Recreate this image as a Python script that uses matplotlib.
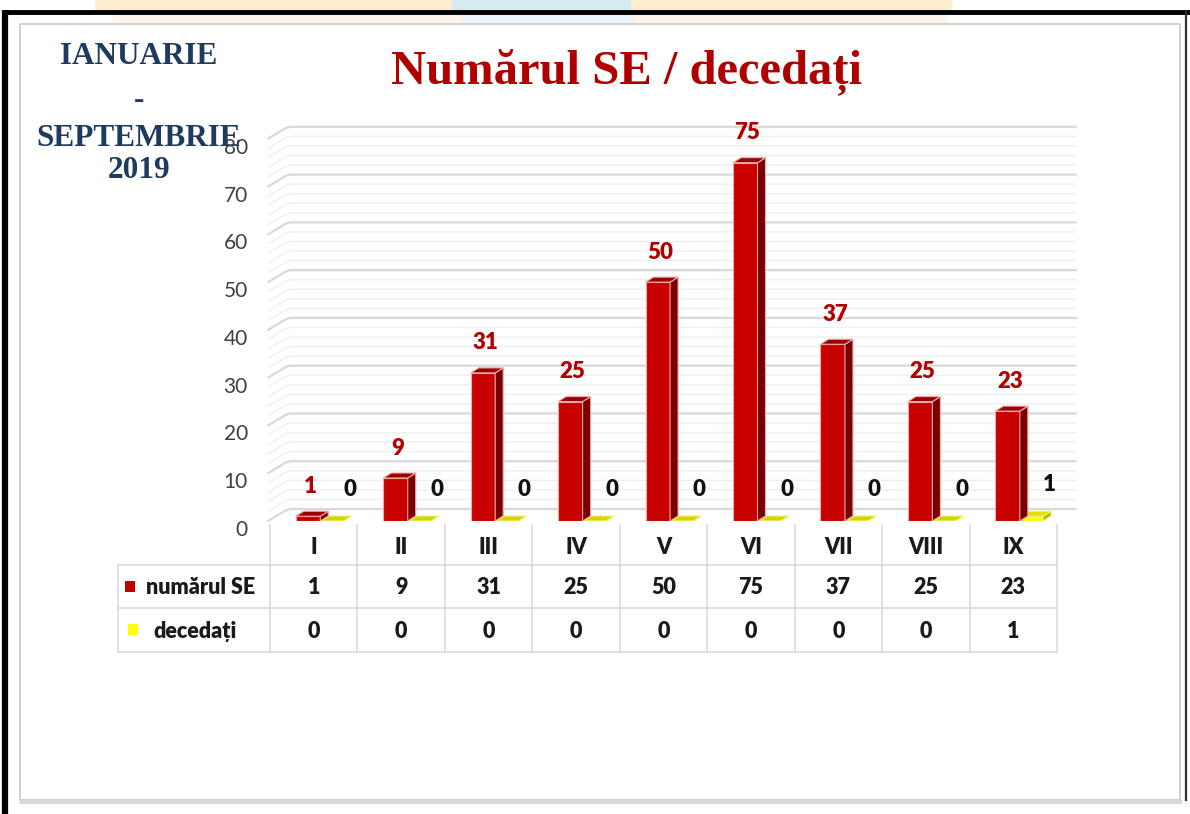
import numpy as np
import matplotlib
matplotlib.use("Agg")
import matplotlib.pyplot as plt
from matplotlib.patches import Polygon, Rectangle
from matplotlib.transforms import blended_transform_factory, ScaledTranslation

# ---------------- data ----------------
categories = ["I", "II", "III", "IV", "V", "VI", "VII", "VIII", "IX"]
numarul_se = [1, 9, 31, 25, 50, 75, 37, 25, 23]
decedati = [0, 0, 0, 0, 0, 0, 0, 0, 1]
series_names = ["numărul SE", "decedați"]
y_ticks = [0, 10, 20, 30, 40, 50, 60, 70, 80]
title = "Numărul SE / decedați"
side_text = ["IANUARIE", "-", "SEPTEMBRIE", "2019"]

W, H = 1190, 814
fig = plt.figure(figsize=(W / 100, H / 100), dpi=100)
fig.patch.set_facecolor("white")

# background / decoration axes in pixel coordinates
bg = fig.add_axes([0, 0, 1, 1])
bg.set_xlim(0, W)
bg.set_ylim(H, 0)
bg.axis("off")

# top decorative strip
grad = np.zeros((1, 400, 3))
xs = np.linspace(0, 1, 400)
for i, xv in enumerate(xs):
    if 0.38 < xv < 0.53:
        c = (0.84, 0.92, 0.96)
    elif 0.08 < xv < 0.80:
        c = (0.99, 0.93, 0.82)
    else:
        c = (1, 1, 1)
    grad[0, i] = c
bg.imshow(grad, extent=[0, W, 11, 0], aspect="auto", zorder=0)
bg.imshow(grad * 0.5 + 0.5, extent=[20, 1180, 24, 13], aspect="auto", zorder=0)

# black outer frame
bg.plot([5, 5], [10, H], color="black", lw=4.5, solid_capstyle="butt", zorder=5)
bg.plot([3, W], [12, 12], color="black", lw=3.5, solid_capstyle="butt", zorder=5)
bg.plot([1186, 1186], [12, 800], color="#303030", lw=1.6, zorder=5)
# inner panel
bg.add_patch(Rectangle((20, 24), 1160, 776, facecolor="white", edgecolor="#C8C8C8", lw=1.2, zorder=1))
bg.plot([22, 1180], [802, 802], color="#D8D8D8", lw=3, zorder=1)

# ---------------- chart axes ----------------
px_left, px_right = 270, 1057
px_zero, px_top = 521, 138.8
ax = fig.add_axes([px_left / W, (H - px_zero) / H, (px_right - px_left) / W, (px_zero - px_top) / H])
ax.set_xlim(-0.5, len(categories) - 0.5)
ax.set_ylim(0, 80)
ax.patch.set_alpha(0)
for s in ax.spines.values():
    s.set_visible(False)
ax.set_xticks([])

ppx = (px_right - px_left) / len(categories)
ppy = (px_zero - px_top) / 80.0

# back wall gridlines with slanted left wall part
wall_dx = 20 / ppx
wall_dy = 12 / ppy
x_end = (1076 - px_left) / ppx - 0.5
for v in range(0, 81, 2):
    major = v % 10 == 0
    col = "#D9D9D9" if major else "#EFEFEF"
    lw = 1.6 if major else 1.0
    xsl = [-0.5 - 2 / ppx, -0.5 + wall_dx * 0.8, -0.5 + wall_dx, x_end]
    ysl = [v, v + wall_dy * 0.9, v + wall_dy, v + wall_dy]
    ax.plot(xsl, ysl, color=col, lw=lw, zorder=1, clip_on=False, solid_capstyle="round")

# y ticks
ax.set_yticks(y_ticks)
ax.set_yticklabels([str(t) for t in y_ticks], fontsize=15, color="#404040", family="Lato")
ax.tick_params(axis="y", length=0, pad=16)
for lab in ax.get_yticklabels():
    lab.set_transform(lab.get_transform() + ScaledTranslation(0, -5 / 72, fig.dpi_scale_trans))

# 3D-like bars
bdx = 8 / ppx
bdy = 5 / ppy
x = np.arange(len(categories))
red_off, red_w = -0.065, 0.28
yel_off, yel_w = 0.215, 0.25


def bar3d(xc, w, h, front, side, top, edge, z):
    x0, x1 = xc - w / 2, xc + w / 2
    ax.bar(xc, h, width=w, bottom=0, color=front, edgecolor=edge, lw=0.8, zorder=z)
    ax.add_patch(Polygon([(x1, 0), (x1 + bdx, bdy), (x1 + bdx, h + bdy), (x1, h)],
                         closed=True, facecolor=side, edgecolor=edge, lw=0.8, zorder=z))
    ax.add_patch(Polygon([(x0, h), (x0 + bdx, h + bdy), (x1 + bdx, h + bdy), (x1, h)],
                         closed=True, facecolor=top, edgecolor=edge, lw=0.8, zorder=z + 0.1))


for i in range(len(categories)):
    bar3d(x[i] + yel_off, yel_w, decedati[i], "#FFFF00", "#B8B800",
          "#D4D400" if decedati[i] == 0 else "#E0E000", "#F2F27A", 3)
    bar3d(x[i] + red_off, red_w, numarul_se[i], "#C80000", "#7A0000", "#9A0000", "#F2A8A8", 4)

# data labels
lab_font = dict(fontsize=16, fontweight="heavy", family="Lato")
for i in range(len(categories)):
    ax.text(x[i] + red_off + bdx / 2 - 0.02, numarul_se[i] + 30 / ppy, str(numarul_se[i]),
            ha="center", va="center", color="#B00000", zorder=6, clip_on=False, **lab_font)
    ax.text(x[i] + 0.41, decedati[i] + 32 / ppy, str(decedati[i]),
            ha="center", va="center", color="#111111", zorder=6, clip_on=False, **lab_font)

# ---------------- data table ----------------
tr = blended_transform_factory(ax.transData, bg.transData)
line_c = "#D9D9D9"
tbl_left = 118
row_h = [565, 608, 652]
for yy in row_h:
    bg.plot([tbl_left, px_right], [yy, yy], color=line_c, lw=1.1, zorder=2)
bg.plot([tbl_left, tbl_left], [565, 652], color=line_c, lw=1.1, zorder=2)
for i in range(len(categories) + 1):
    bg.plot([i - 0.5, i - 0.5], [525, 652], color=line_c, lw=1.1, zorder=2, transform=tr)
tbl_font = dict(fontsize=15.5, fontweight="heavy", color="#1A1A1A", family="Lato")
for i, c in enumerate(categories):
    bg.text(i, 548, c, transform=tr, ha="center", va="center", **tbl_font)
    bg.text(i, 587, str(numarul_se[i]), transform=tr, ha="center", va="center", **tbl_font)
    bg.text(i, 631, str(decedati[i]), transform=tr, ha="center", va="center", **tbl_font)

bg.add_patch(Rectangle((125, 581), 10, 11, facecolor="#C00000", edgecolor="none", zorder=3))
bg.add_patch(Rectangle((128, 624), 10, 11, facecolor="#FFFF00", edgecolor="none", zorder=3))
bg.text(146, 587, series_names[0], ha="left", va="center", **tbl_font)
bg.text(153, 631, series_names[1], ha="left", va="center", **tbl_font)

# ---------------- titles ----------------
bg.text(627, 72, title, ha="center", va="center", fontsize=35, fontweight="bold",
        color="#B00000", family=["Liberation Serif", "DejaVu Serif"], zorder=6)
navy = "#1F3A5F"
for txt, yy in zip(side_text, [57, 100, 139, 171]):
    bg.text(139, yy, txt, ha="center", va="center", fontsize=22.5, fontweight="bold",
            color=navy, family=["Liberation Serif", "DejaVu Serif"], zorder=6)

fig.savefig("out.png", dpi=100)
